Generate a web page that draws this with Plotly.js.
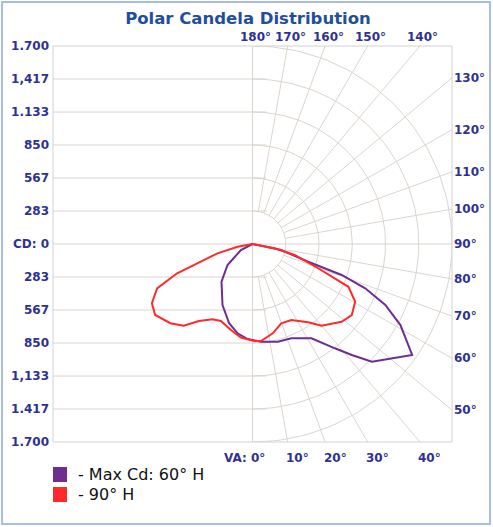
<!DOCTYPE html>
<html>
<head>
<meta charset="utf-8">
<script src="https://cdn.plot.ly/plotly-3.0.1.min.js"></script>
<style>html,body{margin:0;padding:0;background:#fff;}#chart{width:493px;height:527px;}</style>
</head>
<body>
<div id="chart"></div>
<script>
// ---- Data (vertical angle in degrees, 0 = straight down; negative = opposite half-plane) ----
const maxCdAngles = [90, 78.1, 72.2, 70.7, 68.4, 65.2, 61.1, 55.0, 45.2, 41.6, 38.1, 31.8, 22.2, 14.5, 5.0, -2.9, -9.4, -16.3, -26.0, -39.2, -49.7, -62.4, -90];
const maxCdValues = [0, 250, 498, 805, 1033, 1247, 1440, 1661, 1434, 1274, 1138, 953, 875, 866, 842, 817, 777, 709, 583, 418, 279, 111, 0];

const h90Angles = [90, 78.8, 75.3, 69.6, 65.8, 60.5, 54.2, 48.7, 40.0, 35.2, 26.9, 19.8, 12.7, 5.0, 1.1, -7.0, -14.0, -22.2, -27.9, -34.6, -39.9, -45.8, -53.7, -59.3, -64.9, -68.6, -70.6, -75.0, -79.7, -90];
const h90Values = [0, 191, 371, 597, 896, 1005, 1043, 1011, 915, 823, 731, 724, 786, 836, 833, 809, 761, 714, 731, 804, 914, 976, 1029, 997, 898, 690, 499, 309, 129, 0];

const seriesNames = ['- Max Cd: 60\u00b0 H', '- 90\u00b0 H'];
const seriesColors = ['#6f2c91', '#ff2b2b'];

const cdTickVals = [1700, 1416.67, 1133.33, 850, 566.67, 283.33, 0, -283.33, -566.67, -850, -1133.33, -1416.67, -1700];
const cdTickText = ['1.700', '1,417', '1.133', '850', '567', '283', 'CD: 0', '283', '567', '850', '1,133', '1.417', '1.700'];

const topAngles = [180, 170, 160, 150, 140];
const topLabels = ['180\u00b0', '170\u00b0', '160\u00b0', '150\u00b0', '140\u00b0'];
const rightAngles = [130, 120, 110, 100, 90, 80, 70, 60, 50];
const rightLabels = ['130\u00b0', '120\u00b0', '110\u00b0', '100\u00b0', '90\u00b0', '80\u00b0', '70\u00b0', '60\u00b0', '50\u00b0'];
const bottomAngles = [0, 10, 20, 30, 40];
const bottomLabels = ['VA: 0\u00b0', '10\u00b0', '20\u00b0', '30\u00b0', '40\u00b0'];

// ---- helpers ----
const R = 1700;
const STEP = 1700 / 6;
const rad = d => d * Math.PI / 180;
function toXY(angles, values) {
  return {
    x: angles.map((a, i) => values[i] * Math.sin(rad(a))),
    y: angles.map((a, i) => -values[i] * Math.cos(rad(a)))
  };
}

const gridColor = '#dcd5ce';
const labelColor = '#2e3192';
const labelFont = {family: 'DejaVu Sans, Verdana, sans-serif', size: 12, color: labelColor, weight: 'bold'};

const traces = [];
// polar grid arcs (right half)
for (let k = 1; k <= 6; k++) {
  const xs = [], ys = [];
  for (let a = 0; a <= 180; a += 2) { xs.push(k * STEP * Math.sin(rad(a))); ys.push(-k * STEP * Math.cos(rad(a))); }
  traces.push({x: xs, y: ys, mode: 'lines', line: {color: gridColor, width: 1}, hoverinfo: 'skip', showlegend: false});
}
// radial lines every 10 deg
for (let a = 10; a <= 170; a += 10) {
  if (a === 90) continue;
  const s = Math.sin(rad(a)), c = -Math.cos(rad(a));
  const t = R / Math.max(Math.abs(s), Math.abs(c));
  traces.push({x: [STEP * s, t * s], y: [STEP * c, t * c], mode: 'lines', line: {color: gridColor, width: 1}, hoverinfo: 'skip', showlegend: false});
}

// data curves
[[maxCdAngles, maxCdValues], [h90Angles, h90Values]].forEach((d, i) => {
  const p = toXY(d[0], d[1]);
  traces.push({x: p.x, y: p.y, mode: 'lines', name: seriesNames[i], line: {color: seriesColors[i], width: 2}, showlegend: false});
});

const shapes = [];
// horizontal grid lines (left half)
for (let k = -5; k <= 5; k++) {
  if (k === 0) continue;
  shapes.push({type: 'line', xref: 'x', yref: 'y', x0: -R, x1: 120, y0: k * STEP, y1: k * STEP, line: {color: gridColor, width: 1}, layer: 'below'});
}
shapes.push({type: 'line', xref: 'x', yref: 'y', x0: -R, x1: R, y0: 0, y1: 0, line: {color: gridColor, width: 1}, layer: 'below'});
shapes.push({type: 'line', xref: 'x', yref: 'y', x0: 0, x1: 0, y0: -R, y1: R, line: {color: gridColor, width: 1}, layer: 'below'});
// plot border
shapes.push({type: 'rect', xref: 'paper', yref: 'paper', x0: 0, x1: 1, y0: 0, y1: 1, line: {color: '#d2d2d2', width: 1}});
// outer frame
const W = 493, H = 527, ml = 53, mr = 41, mt = 46, mb = 85;
const pw = W - ml - mr, ph = H - mt - mb;
const px = v => (v - ml) / pw, py = v => (H - mb - v) / ph;
shapes.push({type: 'rect', xref: 'paper', yref: 'paper', x0: px(2), x1: px(490), y0: py(524), y1: py(2), line: {color: '#a9bde4', width: 2}});
// legend squares
seriesColors.forEach((c, i) => {
  shapes.push({type: 'rect', xref: 'paper', yref: 'paper', x0: px(53), x1: px(67), y0: py(482 + i * 20), y1: py(467 + i * 20), fillcolor: c, line: {width: 0}});
});

const annotations = [];
topAngles.forEach((a, i) => annotations.push({x: R * Math.tan(rad(180 - a)), y: R, xref: 'x', yref: 'y', text: topLabels[i], showarrow: false, xanchor: 'center', yanchor: 'bottom', xshift: 3, yshift: 0, font: labelFont}));
rightAngles.forEach((a, i) => annotations.push({x: R, y: -R / Math.tan(rad(a)), xref: 'x', yref: 'y', text: rightLabels[i], showarrow: false, xanchor: 'left', yanchor: 'middle', xshift: 0, font: labelFont}));
bottomAngles.forEach((a, i) => annotations.push({x: R * Math.tan(rad(a)), y: -R, xref: 'x', yref: 'y', text: bottomLabels[i], showarrow: false, xanchor: i === 0 ? 'right' : 'center', yanchor: 'top', xshift: i === 0 ? 14 : 10, yshift: -7, font: labelFont}));
seriesNames.forEach((n, i) => annotations.push({x: px(76), y: py(474.5 + i * 20), xref: 'paper', yref: 'paper', text: n, showarrow: false, xanchor: 'left', yanchor: 'middle', font: {family: 'DejaVu Sans, Verdana, sans-serif', size: 16, color: '#111'}}));

const layout = {
  width: W, height: H,
  margin: {l: ml, r: mr, t: mt, b: mb, pad: 0},
  paper_bgcolor: '#ffffff', plot_bgcolor: '#ffffff',
  title: {text: 'Polar Candela Distribution', xref: 'container', x: 0.503, xanchor: 'center', yref: 'container', y: 1 - 18 / H, yanchor: 'middle',
    font: {family: 'DejaVu Sans, Verdana, sans-serif', size: 16.5, color: '#1f4e9e', weight: 'bold'}},
  xaxis: {range: [-R, R], showgrid: false, zeroline: false, showticklabels: false, showline: false, fixedrange: true},
  yaxis: {range: [-R, R], showgrid: false, zeroline: false, showline: false, ticks: '', tickvals: cdTickVals, ticktext: cdTickText, tickfont: labelFont, ticklabelstandoff: 3, fixedrange: true},
  shapes: shapes,
  annotations: annotations,
  showlegend: false
};

Plotly.newPlot('chart', traces, layout, {displayModeBar: false, staticPlot: true});
</script>
</body>
</html>
